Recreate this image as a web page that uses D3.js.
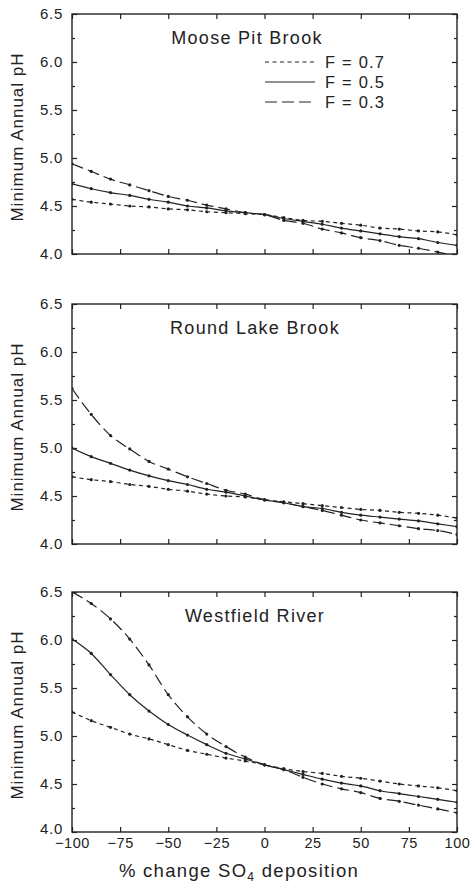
<!DOCTYPE html>
<html lang="en">
<head>
  <meta charset="utf-8">
  <script src="https://d3js.org/d3.v7.min.js"></script>
  <title>Minimum annual pH vs SO4 deposition</title>
  <style>
    body { margin: 0; background: #fff; }
    svg text { font-family: "Liberation Sans", Arial, sans-serif; fill: #222; }
    .domain { display: none; }
  </style>
</head>
<body>
  <svg width="470" height="886" id="chart"></svg>

  <script>
    // % change in SO4 deposition, every 10 %
    const pctChange = [-100, -90, -80, -70, -60, -50, -40, -30, -20, -10, 0,
                       10, 20, 30, 40, 50, 60, 70, 80, 90, 100];

    const sites = ["Moose Pit Brook", "Round Lake Brook", "Westfield River"];
    const fLabels = ["F = 0.7", "F = 0.5", "F = 0.3"];

    // Moose Pit Brook
    const mooseF07 = [4.57, 4.54, 4.52, 4.50, 4.49, 4.47, 4.46, 4.44, 4.43, 4.42, 4.41,
                      4.38, 4.35, 4.34, 4.32, 4.30, 4.27, 4.26, 4.24, 4.23, 4.20];
    const mooseF05 = [4.73, 4.68, 4.64, 4.61, 4.57, 4.54, 4.50, 4.48, 4.45, 4.43, 4.41,
                      4.37, 4.34, 4.31, 4.27, 4.24, 4.21, 4.18, 4.16, 4.12, 4.09];
    const mooseF03 = [4.94, 4.86, 4.78, 4.72, 4.66, 4.60, 4.56, 4.51, 4.47, 4.43, 4.41,
                      4.35, 4.32, 4.26, 4.22, 4.17, 4.14, 4.09, 4.06, 4.02, 3.98];

    // Round Lake Brook
    const roundF07 = [4.70, 4.67, 4.65, 4.62, 4.60, 4.57, 4.55, 4.52, 4.50, 4.49, 4.46,
                      4.44, 4.42, 4.40, 4.38, 4.36, 4.35, 4.33, 4.32, 4.30, 4.27];
    const roundF05 = [5.00, 4.91, 4.84, 4.77, 4.71, 4.66, 4.62, 4.57, 4.54, 4.50, 4.46,
                      4.43, 4.39, 4.37, 4.33, 4.30, 4.28, 4.26, 4.24, 4.21, 4.18];
    const roundF03 = [5.62, 5.35, 5.13, 4.99, 4.86, 4.78, 4.70, 4.63, 4.56, 4.52, 4.46,
                      4.43, 4.39, 4.35, 4.30, 4.25, 4.22, 4.19, 4.16, 4.14, 4.10];

    // Westfield River
    const westF07 = [5.25, 5.16, 5.09, 5.02, 4.97, 4.91, 4.85, 4.81, 4.77, 4.74, 4.70,
                     4.66, 4.63, 4.61, 4.58, 4.56, 4.53, 4.50, 4.48, 4.46, 4.43];
    const westF05 = [6.01, 5.86, 5.64, 5.43, 5.26, 5.12, 5.01, 4.91, 4.82, 4.76, 4.70,
                     4.65, 4.60, 4.55, 4.51, 4.48, 4.43, 4.40, 4.37, 4.34, 4.31];
    const westF03 = [6.50, 6.38, 6.22, 6.01, 5.74, 5.43, 5.20, 5.02, 4.89, 4.78, 4.70,
                     4.65, 4.57, 4.50, 4.45, 4.41, 4.35, 4.32, 4.28, 4.24, 4.20];

    const xMajor = [-100, -75, -50, -25, 0, 25, 50, 75, 100];
    const yMajor = [4.0, 4.5, 5.0, 5.5, 6.0, 6.5];
    const yMinor = [4.25, 4.75, 5.25, 5.75, 6.25];

    const panelData = [
      [mooseF07, mooseF05, mooseF03],
      [roundF07, roundF05, roundF03],
      [westF07, westF05, westF03]
    ];
    const dashes = ["4,3.5", null, "12,5"];

    const svg = d3.select("#chart");
    const left = 72, right = 457;
    const panelTops = [14, 304, 592];
    const titleX = [247, 255, 255];
    const plotH = 240;

    const x = d3.scaleLinear().domain([-100, 100]).range([left, right]);

    panelTops.forEach((top, p) => {
      const y = d3.scaleLinear().domain([4.0, 6.5]).range([top + plotH, top]);
      const g = svg.append("g");
      const bottom = top + plotH;

      // clip so curves stay in the frame
      svg.append("clipPath").attr("id", "clip" + p)
        .append("rect").attr("x", left).attr("y", top)
        .attr("width", right - left).attr("height", plotH);

      // axes, ticks pointing in
      const yAx = g.append("g").attr("transform", "translate(" + left + ",0)")
        .call(d3.axisLeft(y).tickValues(yMajor).tickSize(-5).tickPadding(9)
          .tickFormat(d3.format(".1f")));
      yAx.selectAll("text").attr("font-size", 15).attr("letter-spacing", 0.7);
      // bottom label of the last panel sits a little higher, as in the print
      if (p === 2) yAx.selectAll("text").filter(d => d === 4.0).attr("dy", "0.1em");
      g.append("g").attr("transform", "translate(" + left + ",0)")
        .call(d3.axisLeft(y).tickValues(yMinor).tickSize(-3).tickFormat(""));
      g.append("g").attr("transform", "translate(" + right + ",0)")
        .call(d3.axisRight(y).tickValues(yMajor).tickSize(-5).tickFormat(""));
      g.append("g").attr("transform", "translate(" + right + ",0)")
        .call(d3.axisRight(y).tickValues(yMinor).tickSize(-3).tickFormat(""));
      g.append("g").attr("transform", "translate(0," + top + ")")
        .call(d3.axisTop(x).tickValues(xMajor).tickSize(-5).tickFormat(""));
      const xAx = g.append("g").attr("transform", "translate(0," + bottom + ")")
        .call(d3.axisBottom(x).tickValues(xMajor).tickSize(-5).tickPadding(6)
          .tickFormat(p === 2 ? (d => d < 0 ? "\u2212" + Math.abs(d) : d) : ""));
      xAx.selectAll("text").attr("font-size", 14.5).attr("letter-spacing", 0.6);
      g.selectAll(".tick line").attr("stroke", "#222").attr("stroke-width", 1.2);

      // frame
      g.append("rect").attr("x", left).attr("y", top)
        .attr("width", right - left).attr("height", plotH)
        .attr("fill", "none").attr("stroke", "#222").attr("stroke-width", 1.4);

      // y label
      g.append("text")
        .attr("transform", "translate(23," + (top + plotH / 2 + 3) + ") rotate(-90)")
        .attr("text-anchor", "middle").attr("font-size", 17).attr("letter-spacing", 1)
        .text("Minimum Annual pH");

      // site title
      g.append("text").attr("x", titleX[p]).attr("y", top + 30)
        .attr("text-anchor", "middle").attr("font-size", 18).attr("letter-spacing", 1.3)
        .text(sites[p]);

      const line = d3.line().x((d, i) => x(pctChange[i])).y(d => y(d))
        .curve(d3.curveMonotoneX);
      const plot = g.append("g").attr("clip-path", "url(#clip" + p + ")");

      panelData[p].forEach((vals, s) => {
        plot.append("path").datum(vals)
          .attr("d", line)
          .attr("fill", "none").attr("stroke", "#222").attr("stroke-width", 1.2)
          .attr("stroke-dasharray", dashes[s]);
        plot.selectAll(".pt" + s).data(vals).enter()
          .append("circle").attr("class", "pt" + s)
          .attr("cx", (d, i) => x(pctChange[i]))
          .attr("cy", d => y(d))
          .attr("r", 1.6).attr("fill", "#222");
      });

      // legend, first panel only
      if (p === 0) {
        const lg = g.append("g");
        fLabels.forEach((lab, s) => {
          const ly = top + 48 + s * 20;
          lg.append("line").attr("x1", 265).attr("x2", 315)
            .attr("y1", ly).attr("y2", ly)
            .attr("stroke", "#222").attr("stroke-width", 1.2)
            .attr("stroke-dasharray", dashes[s]);
          lg.append("text").attr("x", 325).attr("y", ly + 6)
            .attr("font-size", 16.5).attr("letter-spacing", 1.2)
            .text(lab);
        });
      }
    });

    // x axis title
    const xt = svg.append("text").attr("x", 239).attr("y", 877)
      .attr("text-anchor", "middle").attr("font-size", 18.5).attr("letter-spacing", 1.3);
    xt.append("tspan").text("% change SO");
    xt.append("tspan").attr("font-size", 12).attr("dy", 4).text("4");
    xt.append("tspan").attr("dy", -4).text(" deposition");
  </script>
</body>
</html>
